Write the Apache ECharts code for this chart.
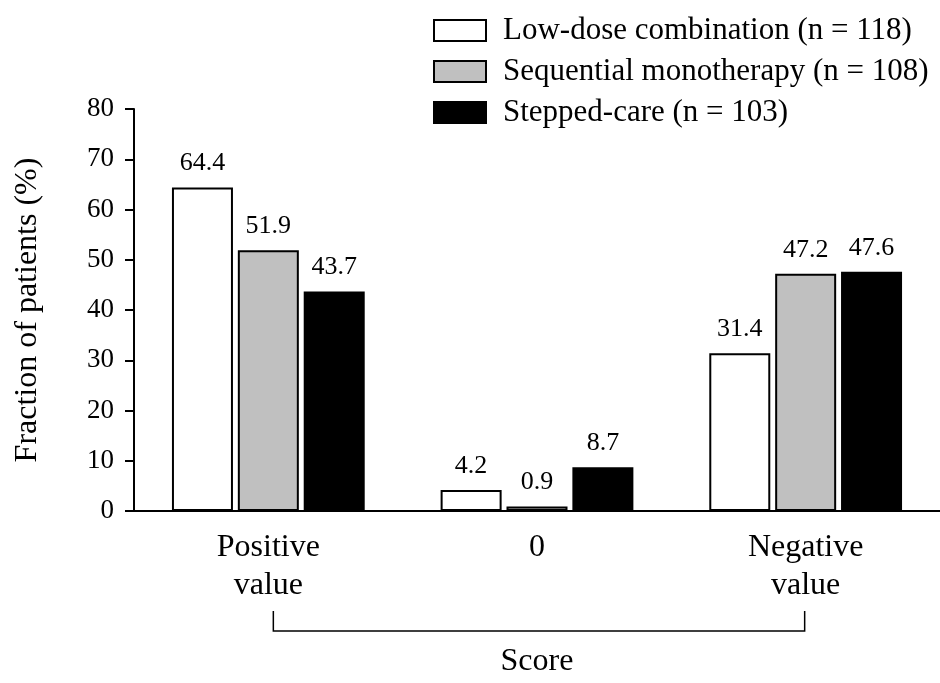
<!DOCTYPE html>
<html>
<head>
<meta charset="utf-8">
<style>
html,body{margin:0;padding:0;background:#fff;}
#chart{width:940px;height:683px;}
</style>
<script src="https://cdn.jsdelivr.net/npm/echarts@6/dist/echarts.min.js"></script>
</head>
<body>
<div id="chart"></div>
<script>
const categories = ['Positive\nvalue', '0', 'Negative\nvalue'];
const seriesNames = ['Low-dose combination (n = 118)', 'Sequential monotherapy (n = 108)', 'Stepped-care (n = 103)'];
const lowDose = [64.4, 4.2, 31.4];
const sequential = [51.9, 0.9, 47.2];
const stepped = [43.7, 8.7, 47.6];
const yTicks = [0, 10, 20, 30, 40, 50, 60, 70, 80];
const fills = ['#ffffff', '#c0c0c0', '#000000'];

const FONT = '"Liberation Serif", "Times New Roman", serif';
const chart = echarts.init(document.getElementById('chart'), null, {renderer: 'canvas'});

const values = [lowDose, sequential, stepped];
const series = values.map((vals, i) => ({
  name: seriesNames[i],
  type: 'bar',
  data: vals,
  barWidth: 61,
  barGap: '8%',
  itemStyle: {color: fills[i], borderColor: '#000', borderWidth: 2},
  label: {
    show: true, position: 'top', distance: 11,
    fontFamily: FONT, fontSize: 26, color: '#000',
    formatter: p => p.value.toFixed(1)
  }
}));

chart.setOption({
  animation: false,
  backgroundColor: '#fff',
  textStyle: {fontFamily: FONT},
  legend: {
    orient: 'vertical',
    left: 428, top: 10,
    itemWidth: 52, itemHeight: 21,
    itemGap: 10,
    icon: 'rect',
    data: seriesNames.map((n, i) => ({name: n, itemStyle: {color: fills[i], borderColor: '#000', borderWidth: 2}})),
    textStyle: {fontFamily: FONT, fontSize: 31, color: '#000', padding: [0, 0, 0, 12]}
  },
  grid: {left: 134, right: 0, top: 109, bottom: 167, containLabel: false},
  xAxis: {
    type: 'category',
    data: categories,
    name: 'Score',
    nameLocation: 'middle',
    nameGap: 135,
    nameTextStyle: {fontFamily: FONT, fontSize: 32, color: '#000'},
    axisLine: {lineStyle: {color: '#000', width: 2}},
    axisTick: {show: false},
    axisLabel: {fontFamily: FONT, fontSize: 32, color: '#000', lineHeight: 38, margin: 18, interval: 0}
  },
  yAxis: {
    type: 'value',
    min: yTicks[0], max: yTicks[yTicks.length - 1], interval: 10,
    name: 'Fraction of patients (%)',
    nameLocation: 'middle',
    nameGap: 90,
    nameTextStyle: {fontFamily: FONT, fontSize: 32, color: '#000'},
    splitLine: {show: false},
    axisLine: {show: true, lineStyle: {color: '#000', width: 2}},
    axisTick: {show: true, inside: false, length: 9, lineStyle: {color: '#000', width: 2}},
    axisLabel: {fontFamily: FONT, fontSize: 27, color: '#000', margin: 20}
  },
  series: series
});

// bracket spanning the score categories (annotation)
const p0 = chart.convertToPixel({xAxisIndex: 0, yAxisIndex: 0}, [0, 0]);
const p2 = chart.convertToPixel({xAxisIndex: 0, yAxisIndex: 0}, [2, 0]);
const x0 = p0[0] + 5, x1 = p2[0] - 1;
const yTop = p0[1] + 100, yBot = p0[1] + 120;
chart.setOption({
  graphic: [{
    type: 'polyline',
    shape: {points: [[x0, yTop], [x0, yBot], [x1, yBot], [x1, yTop]]},
    style: {stroke: '#000', lineWidth: 1.5, fill: null}
  }]
});
</script>
</body>
</html>
